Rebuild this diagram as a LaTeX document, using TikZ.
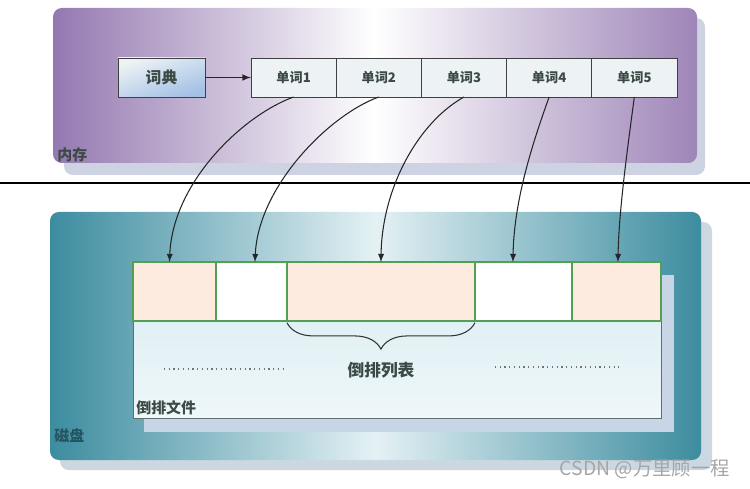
\documentclass[tikz,border=0pt]{standalone}
\usepackage{fontspec}
\newfontfamily\cjk{Noto Sans CJK SC}
\usetikzlibrary{positioning, decorations.pathreplacing}
\definecolor{memdark}{HTML}{9478B0}
\definecolor{memshadow}{HTML}{CDD3E2}
\definecolor{diskdark}{HTML}{3C8C9F}
\definecolor{diskmid}{HTML}{E4F1F4}
\definecolor{diskshadow}{HTML}{CBD8E1}
\definecolor{cellfill}{HTML}{EDF3F4}
\definecolor{dictblue}{HTML}{A3C0E6}
\definecolor{peach}{HTML}{FDEBE0}
\definecolor{cellgreen}{HTML}{52A052}
\definecolor{filetop}{HTML}{D9ECF2}
\definecolor{filebottom}{HTML}{EEF7F9}
\definecolor{fileshadow}{HTML}{C8D5E6}
\definecolor{textgray}{HTML}{3B4A45}
\tikzset{
  wordcell/.style={draw=black!75, fill=cellfill, minimum width=1.704cm, minimum height=0.78cm,
    inner sep=0pt, outer sep=0pt, text=textgray, font=\cjk\bfseries\fontsize{7.5}{8}\selectfont},
  diskcell/.style={draw=cellgreen, line width=0.8pt, minimum height=1.18cm, inner sep=0pt, outer sep=0pt},
  panellbl/.style={text=textgray, inner sep=0pt, font=\cjk\bfseries\fontsize{8.5}{9}\selectfont},
  link/.style={black!85, line width=0.6pt, -latex}
}
\begin{document}
\begin{tikzpicture}[x=0.02cm, y=-0.02cm]
  \useasboundingbox (0,0) rectangle (750,489);
  % memory panel
  \fill[memshadow, rounded corners=5pt] (64,18) rectangle (705,175);
  \shade[rounded corners=5pt, left color=memdark, right color=memdark!90!white, middle color=white]
    (53,8) rectangle (697,163);
  \node[panellbl, anchor=west] (memlbl) at (57,155) {内存};
  % disk panel
  \fill[diskshadow, rounded corners=5pt] (60,222) rectangle (712,470);
  \shade[rounded corners=5pt, left color=diskdark, right color=diskdark, middle color=diskmid]
    (50,212) rectangle (701,460);
  \node[panellbl, anchor=west, text=diskdark!60!black] (disklbl) at (54,436) {磁盘};
  % separator
  \draw[line width=1.2pt] (0,183) -- (750,183);

  % dictionary and words
  \node[draw=black!75, minimum width=1.74cm, minimum height=0.78cm, inner sep=0pt,
    top color=cellfill, bottom color=dictblue, shading angle=20, text=textgray,
    font=\cjk\bfseries\fontsize{9}{9}\selectfont] (dict) at (161.5,77.5) {词典};
  \node[wordcell] (w1) at (293.6,77.5) {单词1};
  \node[wordcell, right=0pt of w1] (w2) {单词2};
  \node[wordcell, right=0pt of w2] (w3) {单词3};
  \node[wordcell, right=0pt of w3] (w4) {单词4};
  \node[wordcell, right=0pt of w4] (w5) {单词5};
  \draw[black!85, line width=0.7pt, -latex] (dict) -- (w1);

  % inverted file
  \fill[fileshadow] (144,275) rectangle (674,432);
  \node[draw=textgray!80, top color=filetop, bottom color=filebottom, minimum width=10.56cm,
    minimum height=3.12cm, inner sep=0pt] (invfile) at (397,340) {};
  \node[diskcell, fill=peach, minimum width=1.66cm] (d1) at (174.5,291.5) {};
  \node[diskcell, fill=white, minimum width=1.42cm, right=0pt of d1] (d2) {};
  \node[diskcell, fill=peach, minimum width=3.76cm, right=0pt of d2] (d3) {};
  \node[diskcell, fill=white, minimum width=1.94cm, right=0pt of d3] (d4) {};
  \node[diskcell, fill=peach, minimum width=1.78cm, right=0pt of d4] (d5) {};
  \node[panellbl, anchor=west] (filelbl) at (136,408) {倒排文件};

  \draw[black!80, line width=0.6pt, decorate, decoration={brace, mirror, amplitude=15pt, aspect=0.5}]
    ([yshift=-1pt]d3.south west) -- ([yshift=-1pt]d3.south east);
  \node[panellbl, font=\cjk\bfseries\fontsize{9.5}{10}\selectfont] (listlbl) at (381,370) {倒排列表};
  \draw[dotted, line width=0.7pt, black!55] (164,369) -- (286,369);
  \draw[dotted, line width=0.7pt, black!55] (495,367) -- (619,367);

  % word -> posting list
  \draw[link] (w1.south) .. controls +(-50,18) and +(3,-80) .. ([xshift=-0.1cm]d1.north);
  \draw[link] (w2.south) .. controls +(-50,18) and +(3,-75) .. ([xshift=0.07cm]d2.north);
  \draw[link] (w3.south) .. controls +(-45,25) and +(1,-75) .. (d3.north);
  \draw[link] (w4.south) .. controls +(-18,50) and +(1,-60) .. ([xshift=-0.21cm]d4.north);
  \draw[link] (w5.south) .. controls +(-8,60) and +(1,-50) .. ([xshift=0.03cm]d5.north);

  \node[text=black!35, anchor=east, font=\cjk\fontsize{11}{12}\selectfont] (mark) at (736,469)
    {CSDN @万里顾一程};
\end{tikzpicture}
\end{document}
